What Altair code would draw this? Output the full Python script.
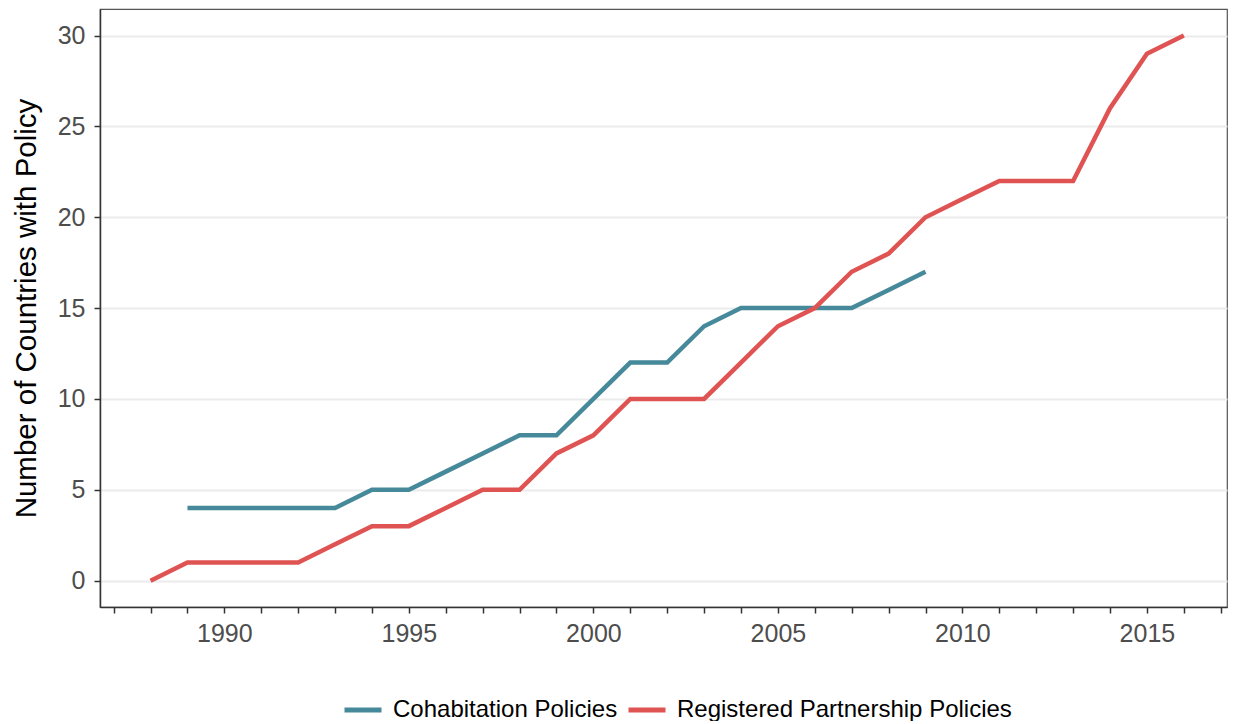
import altair as alt
import pandas as pd

cohab_years = list(range(1989, 2010))
cohab_values = [4, 4, 4, 4, 4, 5, 5, 6, 7, 8, 8, 10, 12, 12, 14, 15, 15, 15, 15, 16, 17]

reg_years = list(range(1988, 2017))
reg_values = [0, 1, 1, 1, 1, 2, 3, 3, 4, 5, 5, 7, 8, 10, 10, 10, 12, 14, 15, 17, 18, 20, 21, 22, 22, 22, 26, 29, 30]

series_names = ["Cohabitation Policies", "Registered Partnership Policies"]
series_colors = ["#46899A", "#E05353"]

x_tick_values = list(range(1987, 2018))
y_tick_values = [0, 5, 10, 15, 20, 25, 30]

df = pd.concat([
    pd.DataFrame({"year": cohab_years, "count": cohab_values, "series": series_names[0]}),
    pd.DataFrame({"year": reg_years, "count": reg_values, "series": series_names[1]}),
], ignore_index=True)

FONT = "Liberation Sans"

chart = alt.Chart(df).mark_line(strokeWidth=4.5, strokeCap="butt").encode(
    x=alt.X("year:Q",
            scale=alt.Scale(domain=[1986.63, 2017.17], nice=False, zero=False),
            axis=alt.Axis(values=x_tick_values, format="d",
                          labelExpr="datum.value % 5 == 0 ? datum.label : ''",
                          title=None, grid=False, labelFlush=False, labelOverlap=False,
                          labelPadding=8)),
    y=alt.Y("count:Q",
            scale=alt.Scale(domain=[-1.45, 31.46], nice=False, zero=False),
            axis=alt.Axis(values=y_tick_values, title="Number of Countries with Policy",
                          grid=True, titleX=-65, titleY=299, titleAngle=270,
                          titleAlign="center", titleBaseline="alphabetic",
                          labelPadding=9)),
    color=alt.Color("series:N",
                    scale=alt.Scale(domain=series_names, range=series_colors),
                    legend=alt.Legend(title=None, orient="none", direction="horizontal",
                                      legendX=242, legendY=680, symbolType="stroke",
                                      symbolSize=1369, symbolStrokeWidth=5,
                                      labelFontSize=24, labelFont=FONT, labelColor="#000000",
                                      labelLimit=600,
                                      labelOffset=9, columnPadding=0, padding=0)),
).properties(
    width=1127, height=598,
    autosize=alt.AutoSizeParams(type="none"),
    padding={"left": 92, "top": 1, "right": 1, "bottom": 114},
).configure_view(
    stroke="#555555", strokeWidth=1.2
).configure_axis(
    labelFont=FONT, labelFontSize=25, labelColor="#4D4D4D",
    titleFont=FONT, titleFontSize=29.5, titleColor="#000000", titleFontWeight="normal",
    domainColor="#333333", domainWidth=1.5,
    tickColor="#333333", tickWidth=1.5, tickSize=6,
    gridColor="#EBEBEB", gridWidth=1.8,
)

chart.save("out.html", embed_options={"renderer": "svg", "actions": False})
